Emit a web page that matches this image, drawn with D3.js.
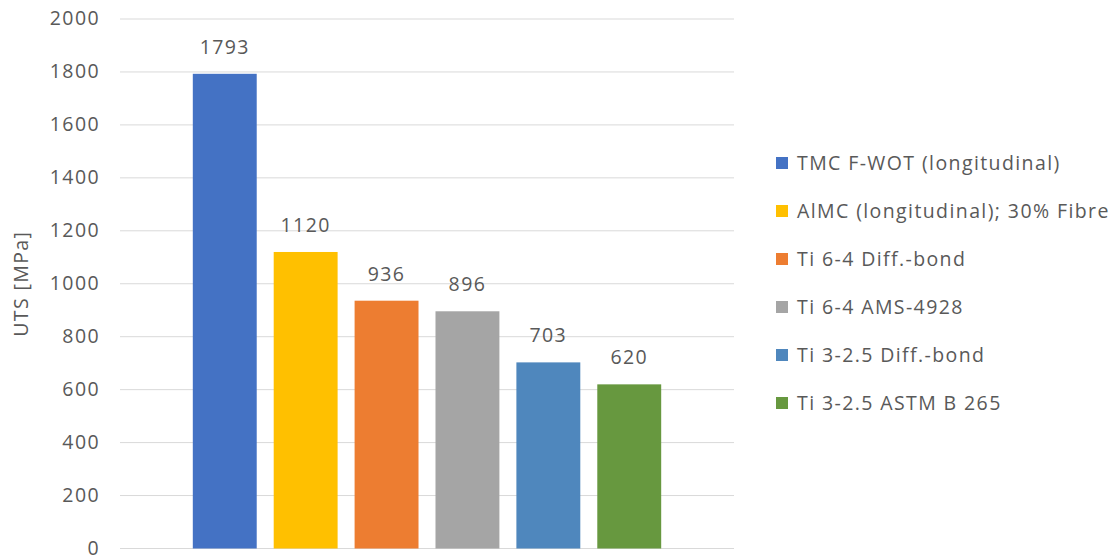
<!DOCTYPE html>
<html lang="en">
<head>
  <meta charset="UTF-8">
  <title>UTS comparison</title>
  <script src="https://d3js.org/d3.v7.min.js"></script>
  <style>
    body { margin: 0; background: #fff; }
    text { font-family: "Open Sans", sans-serif; fill: #595959; }
  </style>
</head>
<body>
  <div class="canvas"></div>
  <script>
    // data
    const materials = ['TMC F-WOT (longitudinal)', 'AlMC (longitudinal); 30% Fibre', 'Ti 6-4 Diff.-bond',
                       'Ti 6-4 AMS-4928', 'Ti 3-2.5 Diff.-bond', 'Ti 3-2.5 ASTM B 265'];
    const uts = [1793, 1120, 936, 896, 703, 620];
    const colors = ['#4472C4', '#FFC000', '#ED7D31', '#A5A5A5', '#4F87BD', '#67983F'];
    const yTicks = [0, 200, 400, 600, 800, 1000, 1200, 1400, 1600, 1800, 2000];
    const yTitle = 'UTS [MPa]';

    const width = 1117;
    const height = 557;
    const [pl, pr, pt, pb] = [120, 734, 19, 548.5];
    const fontSize = '19.5px';
    const spacing = '1.4px';

    const svg = d3.select('.canvas')
                  .append('svg')
                  .attr('width', width)
                  .attr('height', height);

    const y = d3.scaleLinear().domain([0, 2000]).range([pb, pt]);

    // one category, six series side by side
    const x = d3.scaleBand()
                .domain(materials)
                .range([pl, pr])
                .paddingInner(0.21)
                .paddingOuter(0.9);

    // gridlines
    svg.append('g')
       .selectAll('line')
       .data(yTicks)
       .enter()
       .append('line')
       .attr('x1', pl)
       .attr('x2', pr)
       .attr('y1', d => y(d))
       .attr('y2', d => y(d))
       .attr('stroke', '#d9d9d9')
       .attr('stroke-width', 1);

    // y axis labels
    const yAxisG = svg.append('g').attr('transform', `translate(${pl - 6}, 0)`);
    yAxisG.call(d3.axisLeft(y).tickValues(yTicks).tickSize(0).tickPadding(14).tickFormat(d => d));
    yAxisG.select('.domain').remove();
    yAxisG.selectAll('text')
          .attr('dy', '0.3em')
          .style('font-family', '"Open Sans", sans-serif')
          .style('font-size', fontSize)
          .style('letter-spacing', spacing)
          .attr('fill', '#595959');

    svg.append('text')
       .attr('transform', `translate(21, ${(pt + pb) / 2}) rotate(-90)`)
       .attr('text-anchor', 'middle')
       .attr('dy', '0.35em')
       .style('font-size', fontSize)
       .style('letter-spacing', spacing)
       .text(yTitle);

    const rows = materials.map((m, i) => ({ name: m, value: uts[i], color: colors[i] }));

    // bars
    svg.selectAll('rect.bar')
       .data(rows)
       .enter()
       .append('rect')
       .attr('class', 'bar')
       .attr('x', d => x(d.name))
       .attr('y', d => y(d.value))
       .attr('width', x.bandwidth())
       .attr('height', d => pb - y(d.value))
       .attr('fill', d => d.color);

    // value labels
    svg.selectAll('text.val')
       .data(rows)
       .enter()
       .append('text')
       .attr('class', 'val')
       .attr('x', d => x(d.name) + x.bandwidth() / 2)
       .attr('y', d => y(d.value) - 27)
       .attr('dy', '0.35em')
       .attr('text-anchor', 'middle')
       .style('font-size', fontSize)
       .style('letter-spacing', spacing)
       .text(d => d.value);

    // legend
    const legend = svg.append('g').attr('transform', 'translate(776, 163)');
    const item = legend.selectAll('g')
                       .data(rows)
                       .enter()
                       .append('g')
                       .attr('transform', (d, i) => `translate(0, ${i * 48})`);
    item.append('rect')
        .attr('x', 0)
        .attr('y', -6)
        .attr('width', 12)
        .attr('height', 12)
        .attr('fill', d => d.color);
    item.append('text')
        .attr('x', 21)
        .attr('dy', '0.35em')
        .style('font-size', fontSize)
        .style('letter-spacing', spacing)
        .text(d => d.name);
  </script>
</body>
</html>
